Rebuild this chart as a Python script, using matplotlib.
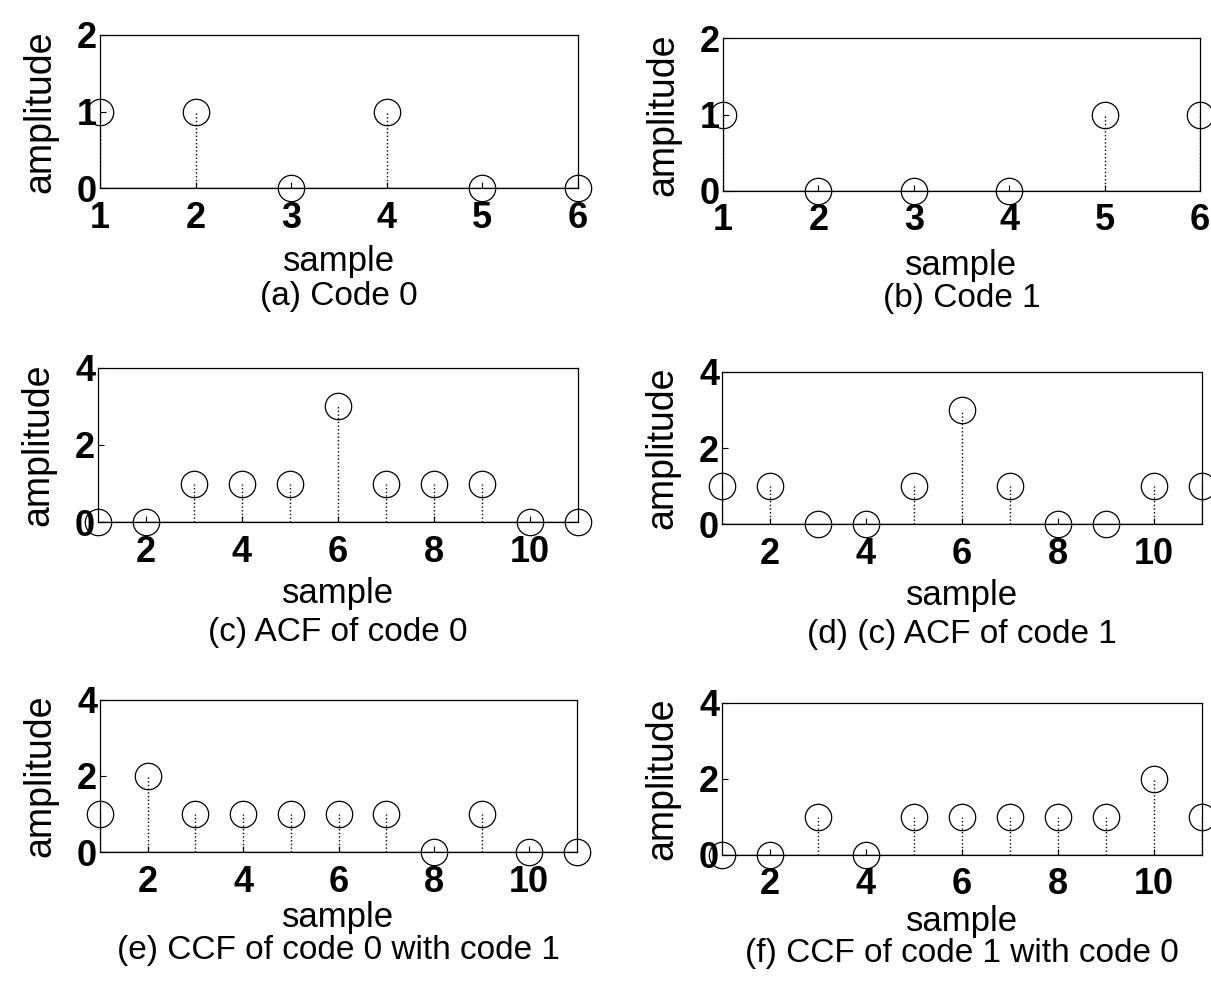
import matplotlib
matplotlib.use("Agg")
import matplotlib.pyplot as plt

plt.rcParams["font.family"] = ["Liberation Sans", "DejaVu Sans"]

# sample indices
samples_code = [1, 2, 3, 4, 5, 6]
samples_corr = [1, 2, 3, 4, 5, 6, 7, 8, 9, 10, 11]

# amplitudes
code0 = [1, 1, 0, 1, 0, 0]
code1 = [1, 0, 0, 0, 1, 1]
acf_code0 = [0, 0, 1, 1, 1, 3, 1, 1, 1, 0, 0]
acf_code1 = [1, 1, 0, 0, 1, 3, 1, 0, 0, 1, 1]
ccf_0_1 = [1, 2, 1, 1, 1, 1, 1, 0, 1, 0, 0]
ccf_1_0 = [0, 0, 1, 0, 1, 1, 1, 1, 1, 2, 1]

captions = [
    "(a) Code 0",
    "(b) Code 1",
    "(c) ACF of code 0",
    "(d) (c) ACF of code 1",
    "(e) CCF of code 0 with code 1",
    "(f) CCF of code 1 with code 0",
]
code_yticks = [0, 1, 2]
corr_yticks = [0, 2, 4]
corr_xticks = [2, 4, 6, 8, 10]

W, H = 1211, 985
# axes boxes in pixels: left, top, right, bottom
boxes = [
    (100, 35, 578, 188),
    (723, 38, 1200, 191),
    (98, 368, 578, 522),
    (722, 372, 1202, 524),
    (100, 700, 577, 852),
    (722, 703, 1202, 855),
]
# distance (px) below the axes of the "sample" label and of the caption
label_gaps = [(74, 109), (74, 108), (72, 110), (71, 110), (66, 98), (66, 98)]

panels = [
    (samples_code, code0, code_yticks, samples_code),
    (samples_code, code1, code_yticks, samples_code),
    (samples_corr, acf_code0, corr_yticks, corr_xticks),
    (samples_corr, acf_code1, corr_yticks, corr_xticks),
    (samples_corr, ccf_0_1, corr_yticks, corr_xticks),
    (samples_corr, ccf_1_0, corr_yticks, corr_xticks),
]

fig = plt.figure(figsize=(W / 100, H / 100), dpi=100)

for (l, t, r, b), (x, y, yt, xt), cap, (g1, g2) in zip(boxes, panels, captions, label_gaps):
    h = b - t
    w = r - l
    ax = fig.add_axes([l / W, 1 - b / H, w / W, h / H])
    ax.vlines(x, 0, y, colors="black", linestyles=":", linewidth=1.0)
    ax.plot([x[0], x[-1]], [0, 0], color="black", linewidth=1.0)
    ax.plot(x, y, linestyle="none", marker="o", markersize=19,
            markerfacecolor="none", markeredgecolor="black",
            markeredgewidth=0.9, clip_on=False)
    ax.set_xlim(x[0], x[-1])
    ax.set_ylim(yt[0], yt[-1])
    ax.set_xticks(xt)
    ax.set_yticks(yt)
    ax.tick_params(direction="in", length=4, width=0.8, labelsize=26)
    ax.tick_params(axis="x", pad=9)
    ax.tick_params(axis="y", pad=2)
    for lab in ax.get_xticklabels() + ax.get_yticklabels():
        lab.set_fontweight("bold")
    for sp in ax.spines.values():
        sp.set_linewidth(0.9)
    ax.set_xlabel("sample", fontsize=25, va="center")
    ax.xaxis.set_label_coords(0.5, -g1 / h)
    ax.set_ylabel("amplitude", fontsize=27, va="center")
    ax.yaxis.set_label_coords(-60 / w, 0.5)
    ax.text(0.5, -g2 / h, cap, transform=ax.transAxes, ha="center",
            va="center", fontsize=24)

fig.savefig("out.png", dpi=100)
